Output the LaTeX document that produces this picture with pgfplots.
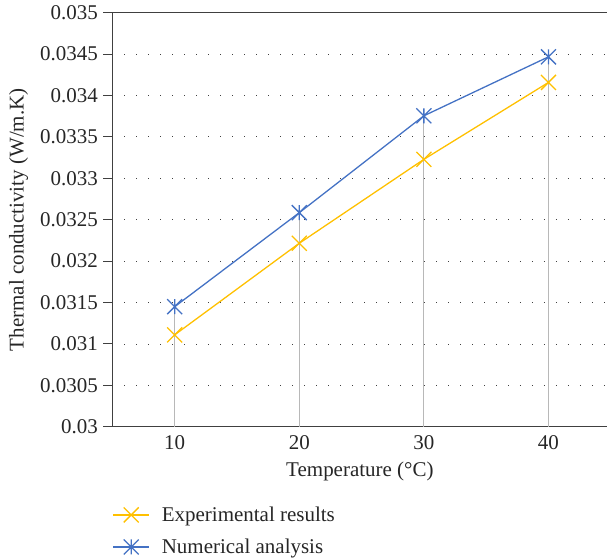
\documentclass[border=0pt]{standalone}
\usepackage{pgfplots}
\pgfplotsset{compat=1.18}
\usepackage{fontspec}
\setmainfont{Liberation Serif}
\definecolor{cyel}{HTML}{FFC000}
\definecolor{cblue}{HTML}{4472C4}
\definecolor{axc}{HTML}{404040}
\definecolor{dropc}{HTML}{B8B8B8}
\pgfdeclareplotmark{xs}{%
  \pgfpathmoveto{\pgfqpoint{-\pgfplotmarksize}{-\pgfplotmarksize}}%
  \pgfpathlineto{\pgfqpoint{\pgfplotmarksize}{\pgfplotmarksize}}%
  \pgfpathmoveto{\pgfqpoint{-\pgfplotmarksize}{\pgfplotmarksize}}%
  \pgfpathlineto{\pgfqpoint{\pgfplotmarksize}{-\pgfplotmarksize}}%
  \pgfusepathqstroke}
\pgfdeclareplotmark{xstar}{%
  \pgfpathmoveto{\pgfqpoint{-\pgfplotmarksize}{-\pgfplotmarksize}}%
  \pgfpathlineto{\pgfqpoint{\pgfplotmarksize}{\pgfplotmarksize}}%
  \pgfpathmoveto{\pgfqpoint{-\pgfplotmarksize}{\pgfplotmarksize}}%
  \pgfpathlineto{\pgfqpoint{\pgfplotmarksize}{-\pgfplotmarksize}}%
  \pgfpathmoveto{\pgfqpoint{0pt}{-\pgfplotmarksize}}%
  \pgfpathlineto{\pgfqpoint{0pt}{\pgfplotmarksize}}%
  \pgfusepathqstroke}
\begin{document}
\begin{tikzpicture}
\begin{axis}[
  scale only axis,
  width=495.5pt, height=414.5pt,
  xmin=5, xmax=44.73,
  ymin=0.03, ymax=0.035,
  axis x line*=bottom, axis y line*=left,
  axis line style={axc, line width=1.2pt, -},
  xtick={10,20,30,40},
  ytick={0.03,0.0305,0.031,0.0315,0.032,0.0325,0.033,0.0335,0.034,0.0345,0.035},
  yticklabels={0.03,0.0305,0.031,0.0315,0.032,0.0325,0.033,0.0335,0.034,0.0345,0.035},
  scaled y ticks=false,
  tick align=outside,
  xtick style={draw=none},
  ytick style={axc, line width=1pt},
  major tick length=9pt,
  ymajorgrids,
  major grid style={black!75, line width=0.9pt, dash pattern=on 0.9pt off 11.1pt, dash phase=-12pt},
  /pgf/number format/assume math mode=true,
  tick label style={font=\rmfamily\fontsize{21}{24}\selectfont, text=black!85},
  xticklabel style={yshift=4pt},
  yticklabel style={xshift=-2pt},
  label style={font=\rmfamily\fontsize{21}{24}\selectfont, text=black!85},
  xlabel={Temperature (°C)},
  xlabel style={yshift=-6pt},
  ylabel={Thermal conductivity (W/m.K)},
  every axis y label/.style={at={(rel axis cs:0,0.5)}, xshift=-103.5pt, rotate=90, anchor=north, inner sep=0pt,
    font=\rmfamily\fontsize{21}{24}\selectfont, text=black!85},
  legend style={at={(rel axis cs:0,0)}, yshift=-78pt, anchor=north west, draw=none,
    font=\rmfamily\fontsize{21}{24}\selectfont, text=black!85, row sep=12pt, inner sep=0pt, fill=none},
  legend cell align=left,
  legend image code/.code={%
    \draw[#1, mark repeat=2, mark phase=2] plot coordinates {(0pt,0pt) (18pt,0pt) (36pt,0pt)};},
  clip=false,
]
\addplot[ycomb, dropc, line width=1.2pt, no marks, forget plot] coordinates {
  (10,0.03145) (20,0.032585) (30,0.033755) (40,0.034467)};
\addplot[cyel, line width=1.3pt, mark=xs, mark size=7.5pt] coordinates {
  (10,0.03111) (20,0.032216) (30,0.033229) (40,0.034158)};
\addlegendentry{\hspace{10pt}Experimental results}
\addplot[cblue, line width=1.3pt, mark=xstar, mark size=7.5pt] coordinates {
  (10,0.03145) (20,0.032585) (30,0.033755) (40,0.034467)};
\addlegendentry{\hspace{10pt}Numerical analysis}
\draw[axc, line width=1.2pt] (rel axis cs:0,1) -- (rel axis cs:1,1);
\path (rel axis cs:0,0) ++(-112.5pt,-132pt) coordinate (bbsw);
\path (rel axis cs:1,1) ++(0pt,12.7pt) coordinate (bbne);
\end{axis}
\useasboundingbox (bbsw) rectangle (bbne);
\end{tikzpicture}
\end{document}
